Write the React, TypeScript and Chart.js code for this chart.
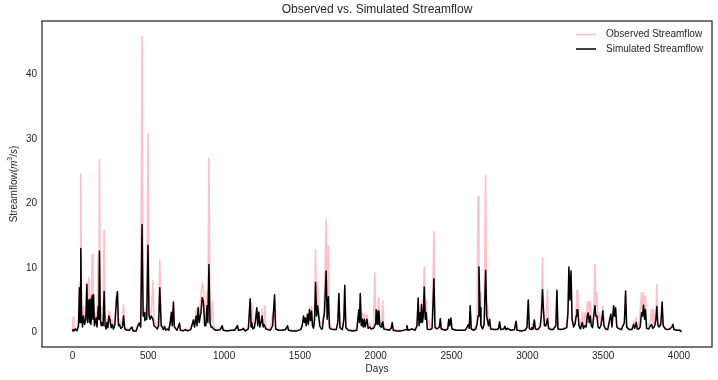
import React, { useEffect, useRef } from 'react';
import { Chart, registerables } from 'chart.js';

Chart.register(...registerables);

const FONT = 'Arial, "Liberation Sans", Helvetica, sans-serif';
const TEXT = '#262626';

const chartTitle = 'Observed vs. Simulated Streamflow';
const xAxisLabel = 'Days';
const seriesNames = ['Observed Streamflow', 'Simulated Streamflow'];
const seriesColors = ['#FFC0CB', '#000000'];
const xTickValues = [0, 500, 1000, 1500, 2000, 2500, 3000, 3500, 4000];
const yTickValues = [0, 10, 20, 30, 40];

const days = [
  0, 5, 10, 20, 30, 40, 46, 50, 55, 60,
  66, 73, 80, 88, 95, 100, 108, 113, 117, 122,
  130, 135, 139, 145, 156, 162, 170, 174, 178, 184,
  190, 196, 202, 209, 215, 222, 228, 234, 240, 247,
  255, 262, 270, 280, 290, 297, 303, 310, 318, 330,
  337, 345, 360, 375, 392, 400, 420, 432, 442, 450,
  459, 466, 472, 478, 484, 490, 498, 505, 512, 520,
  531, 538, 548, 560, 568, 576, 585, 592, 600, 608,
  615, 625, 635, 645, 653, 658, 666, 672, 690, 706,

  712, 730, 745, 760, 780, 798, 805, 816, 822, 829,
  836, 847, 856, 864, 872, 880, 887, 893, 900, 907,
  914, 922, 930, 945, 960, 975, 987, 995, 1020, 1050,
  1070, 1088, 1095, 1120, 1125, 1140, 1160, 1172, 1178, 1182,
  1190, 1200, 1208, 1216, 1222, 1229, 1236, 1244, 1251, 1258,
  1264, 1269, 1276, 1290, 1305, 1320, 1333, 1340, 1360, 1385,
  1405, 1418, 1425, 1450, 1480, 1505, 1515, 1524, 1530, 1535,

  1542, 1550, 1556, 1563, 1570, 1577, 1583, 1590, 1597, 1603,
  1610, 1617, 1624, 1631, 1640, 1648, 1655, 1662, 1673, 1680,
  1688, 1695, 1705, 1720, 1740, 1750, 1757, 1764, 1780, 1790,
  1796, 1803, 1820, 1850, 1875, 1889, 1893, 1898, 1905, 1911,
  1918, 1924, 1930, 1942, 1950, 1960, 1970, 1985, 1994, 2000,
  2003, 2010, 2015, 2021, 2027, 2035, 2041, 2047, 2053, 2070,
  2090, 2102, 2109, 2116, 2140, 2170, 2200, 2206, 2212, 2240,

  2260, 2272, 2280, 2286, 2293, 2297, 2302, 2308, 2314, 2320,
  2327, 2333, 2340, 2352, 2360, 2372, 2384, 2391, 2405, 2420,
  2426, 2432, 2460, 2475, 2482, 2488, 2496, 2503, 2530, 2560,
  2590, 2612, 2617, 2623, 2630, 2645, 2660, 2668, 2675, 2681,
  2688, 2694, 2705, 2715, 2725, 2732, 2737, 2744, 2751, 2758,
  2780, 2800, 2810, 2817, 2824, 2845, 2852, 2860, 2870, 2890,
  2915, 2926, 2932, 2960, 2985, 2998, 3006, 3013, 3025, 3030,

  3038, 3046, 3053, 3070, 3085, 3092, 3100, 3106, 3113, 3122,
  3133, 3140, 3155, 3170, 3188, 3195, 3202, 3220, 3240, 3260,
  3268, 3274, 3281, 3288, 3295, 3305, 3315, 3322, 3327, 3333,
  3340, 3350, 3362, 3370, 3380, 3388, 3395, 3401, 3408, 3415,
  3422, 3430, 3438, 3446, 3452, 3459, 3466, 3475, 3485, 3492,
  3498, 3505, 3515, 3530, 3544, 3551, 3558, 3569, 3575, 3582,
  3590, 3600, 3620, 3640, 3648, 3655, 3670, 3690, 3701, 3708,

  3718, 3725, 3735, 3744, 3753, 3760, 3766, 3773, 3779, 3786,
  3800, 3812, 3819, 3826, 3833, 3840, 3848, 3854, 3860, 3868,
  3880, 3889, 3896, 3910, 3925, 3940, 3954, 3960, 3967, 3985,
  4004, 4017,
];

// Observed streamflow (m^3/s)
const observed = [
  0.2, 2.3, 0.3, 0.5, 0.3, 1.5, 7.7, 2.0, 24.5, 4.0,
  1.5, 4.0, 1.8, 3.0, 7.8, 2.0, 8.5, 2.5, 6.0, 2.0,
  12.1, 3.0, 6.0, 1.5, 3.0, 1.0, 12.0, 3.0, 26.8, 3.0,
  2.0, 4.0, 2.0, 15.8, 3.0, 1.0, 2.0, 1.0, 3.2, 3.0,
  1.0, 2.0, 0.8, 1.5, 6.2, 6.0, 1.5, 2.0, 1.0, 2.0,
  4.3, 0.8, 0.6, 0.4, 0.8, 0.3, 0.3, 1.5, 1.4, 1.0,
  45.9, 3.0, 3.5, 2.0, 4.0, 2.5, 30.8, 3.0, 2.5, 3.0,
  8.0, 2.0, 1.5, 1.0, 3.0, 11.2, 1.5, 1.0, 0.5, 0.8,
  0.4, 0.6, 0.3, 2.0, 3.0, 1.0, 4.5, 1.0, 0.4, 1.2,

  0.4, 0.3, 0.5, 0.3, 0.5, 2.0, 1.0, 3.6, 1.5, 4.0,
  2.0, 5.8, 7.6, 6.8, 2.0, 1.5, 6.3, 2.0, 27.0, 3.0,
  1.5, 4.8, 1.0, 0.6, 0.4, 0.5, 1.0, 0.4, 0.3, 0.3,
  0.4, 1.0, 0.3, 0.4, 0.6, 0.3, 0.5, 5.0, 1.0, 4.6,
  0.6, 1.0, 2.5, 3.6, 1.5, 3.2, 1.2, 1.8, 3.6, 0.9,
  1.5, 4.1, 0.8, 0.5, 0.4, 3.0, 2.5, 0.6, 0.3, 0.3,
  0.4, 1.0, 0.3, 0.3, 0.3, 0.4, 1.0, 2.5, 1.5, 2.0,

  1.0, 2.8, 1.5, 3.9, 2.0, 4.0, 1.5, 1.0, 3.0, 12.8,
  3.0, 7.9, 3.5, 1.5, 1.5, 1.2, 2.5, 5.5, 17.4, 3.0,
  13.4, 1.5, 0.8, 0.5, 0.5, 2.0, 5.8, 0.8, 0.5, 2.0,
  7.0, 0.8, 0.4, 0.3, 0.4, 3.5, 1.5, 5.6, 1.5, 3.0,
  1.0, 2.8, 1.2, 2.8, 1.0, 1.5, 0.6, 1.0, 9.2, 2.5,
  3.0, 1.5, 3.0, 5.3, 1.5, 1.2, 2.0, 4.8, 0.8, 0.5,
  0.4, 0.6, 1.4, 0.4, 0.3, 0.3, 0.4, 1.0, 0.3, 0.5,

  0.4, 1.0, 4.6, 1.5, 2.5, 1.5, 5.0, 2.0, 3.0, 10.1,
  2.5, 5.0, 1.0, 1.8, 0.8, 1.0, 15.6, 1.2, 0.6, 0.8,
  2.0, 0.6, 0.4, 0.6, 2.0, 1.0, 2.1, 0.6, 0.4, 0.3,
  0.3, 0.8, 0.6, 3.9, 0.6, 0.4, 1.0, 1.5, 21.0, 6.0,
  6.1, 1.5, 0.8, 1.5, 24.3, 3.0, 4.3, 1.2, 2.0, 0.6,
  0.5, 0.4, 0.6, 1.6, 0.5, 0.5, 0.9, 0.4, 0.6, 0.3,
  0.4, 1.7, 0.4, 0.3, 0.3, 0.8, 5.0, 0.8, 0.6, 1.4,

  0.6, 1.9, 0.6, 0.5, 0.8, 3.0, 11.5, 4.0, 1.5, 2.0,
  6.6, 1.0, 0.6, 0.5, 1.0, 6.4, 0.6, 0.5, 0.6, 0.8,
  3.5, 9.5, 5.0, 9.0, 2.0, 1.0, 1.8, 4.0, 6.5, 6.4,
  1.5, 1.0, 3.0, 1.0, 3.0, 1.0, 4.5, 4.8, 2.0, 4.8,
  1.5, 1.2, 3.5, 10.5, 4.0, 6.1, 1.5, 3.0, 1.5, 2.5,
  4.1, 1.5, 0.6, 0.5, 2.5, 2.8, 1.0, 4.1, 2.5, 3.5,
  1.0, 0.7, 0.5, 1.5, 6.0, 1.0, 0.5, 0.6, 1.8, 0.8,

  2.3, 0.8, 1.0, 3.3, 6.1, 3.0, 6.1, 3.0, 5.6, 1.5,
  1.0, 2.0, 3.5, 1.0, 3.5, 1.5, 3.0, 7.4, 2.0, 1.0,
  1.5, 3.0, 1.0, 0.6, 0.5, 0.6, 1.0, 1.3, 0.5, 0.4,
  0.4, 0.2,
];

// Simulated streamflow (m^3/s)
const simulated = [
  0.1, 0.4, 0.2, 0.5, 0.2, 1.0, 6.9, 1.5, 13.0, 3.0,
  0.8, 2.5, 1.2, 2.0, 7.4, 1.5, 5.0, 1.5, 5.1, 1.2,
  5.7, 2.0, 5.8, 1.0, 2.2, 0.8, 4.0, 2.0, 12.6, 2.0,
  1.0, 1.5, 1.0, 6.3, 1.0, 0.5, 1.5, 0.7, 2.5, 2.0,
  0.7, 1.2, 0.5, 1.2, 5.0, 6.3, 1.0, 1.2, 0.6, 0.8,
  2.5, 0.5, 0.3, 0.3, 0.8, 0.2, 0.2, 1.0, 1.4, 0.8,
  16.7, 2.5, 3.0, 1.8, 2.0, 2.0, 13.5, 2.5, 2.0, 2.5,
  2.0, 1.0, 0.8, 0.5, 1.0, 6.9, 1.0, 0.8, 0.4, 0.9,
  0.3, 0.5, 0.3, 1.5, 3.1, 1.0, 4.7, 0.8, 0.3, 1.4,

  0.3, 0.2, 0.4, 0.2, 0.4, 1.9, 0.8, 2.5, 1.0, 3.8,
  1.5, 3.0, 5.4, 4.6, 1.0, 1.0, 4.1, 1.5, 10.5, 1.5,
  0.8, 0.8, 0.5, 0.3, 0.3, 0.4, 1.0, 0.3, 0.2, 0.3,
  0.3, 1.0, 0.3, 0.4, 0.6, 0.2, 0.5, 5.2, 0.8, 1.5,
  0.5, 0.7, 2.0, 3.8, 1.0, 3.1, 0.8, 1.5, 2.5, 0.8,
  1.2, 1.2, 0.5, 0.4, 0.3, 1.0, 5.8, 0.5, 0.3, 0.3,
  0.4, 1.0, 0.3, 0.2, 0.2, 0.4, 1.0, 2.5, 1.5, 2.2,

  1.0, 2.8, 1.2, 3.5, 1.8, 3.3, 1.0, 0.6, 2.0, 7.7,
  2.5, 4.1, 2.5, 1.0, 0.5, 0.5, 2.0, 3.0, 9.5, 2.0,
  5.5, 0.7, 0.5, 0.4, 0.4, 1.5, 6.0, 0.7, 0.4, 2.0,
  7.3, 0.7, 0.3, 0.2, 0.3, 3.5, 1.5, 6.0, 1.0, 2.0,
  0.8, 2.0, 0.8, 2.0, 0.6, 0.8, 0.5, 0.6, 1.0, 1.5,
  3.5, 1.2, 3.3, 3.3, 1.0, 0.8, 1.3, 1.6, 0.5, 0.4,
  0.3, 0.6, 1.5, 0.3, 0.2, 0.2, 0.4, 1.0, 0.3, 0.5,

  0.3, 1.0, 5.3, 1.0, 3.0, 1.5, 4.3, 1.5, 2.5, 7.0,
  2.0, 3.0, 0.5, 0.4, 0.4, 0.6, 8.3, 0.7, 0.5, 0.8,
  2.1, 0.5, 0.3, 0.5, 2.0, 1.0, 2.2, 0.5, 0.3, 0.3,
  0.3, 1.2, 0.6, 4.1, 0.5, 0.3, 0.5, 1.2, 2.5, 10.1,
  3.8, 1.0, 0.5, 1.2, 9.6, 2.5, 1.8, 1.0, 2.0, 0.5,
  0.4, 0.4, 0.6, 1.6, 0.4, 0.5, 0.9, 0.4, 0.6, 0.3,
  0.4, 1.7, 0.3, 0.2, 0.3, 0.8, 5.0, 0.6, 0.4, 0.7,

  0.5, 1.9, 0.5, 0.4, 0.9, 2.5, 6.6, 3.5, 1.0, 1.0,
  2.1, 0.6, 0.4, 0.4, 1.0, 6.5, 0.5, 0.4, 0.5, 0.7,
  3.0, 10.1, 5.0, 9.5, 2.0, 0.8, 1.3, 2.5, 3.5, 3.5,
  1.0, 0.5, 1.5, 0.6, 1.0, 0.8, 2.5, 3.0, 1.5, 2.5,
  1.0, 0.7, 2.5, 4.1, 2.5, 2.5, 0.8, 0.6, 1.0, 2.0,
  3.3, 1.0, 0.5, 0.4, 2.0, 2.8, 0.8, 4.1, 2.5, 3.8,
  0.8, 0.6, 0.4, 1.5, 6.4, 0.8, 0.4, 0.4, 1.2, 0.6,

  1.5, 0.5, 0.5, 0.8, 3.0, 2.5, 4.2, 2.0, 3.5, 0.6,
  0.5, 1.0, 1.2, 0.6, 0.7, 1.0, 2.0, 4.0, 1.2, 0.8,
  1.2, 4.7, 1.0, 0.5, 0.4, 0.5, 0.8, 1.2, 0.4, 0.3,
  0.3, 0.1,
];

const decorPlugin = {
  id: 'mplDecor',
  afterDraw(chart: any) {
    const { ctx, chartArea: a } = chart;
    ctx.save();
    // axes frame
    ctx.strokeStyle = TEXT;
    ctx.lineWidth = 1.25;
    ctx.strokeRect(a.left, a.top, a.right - a.left, a.bottom - a.top);

    // title
    ctx.fillStyle = TEXT;
    ctx.font = `12px ${FONT}`;
    ctx.textAlign = 'center';
    ctx.textBaseline = 'middle';
    ctx.fillText(chartTitle, (a.left + a.right) / 2, a.top - 11);

    // legend
    ctx.font = `10px ${FONT}`;
    ctx.textAlign = 'left';
    seriesNames.forEach((name, i) => {
      const y = a.top + 13.5 + i * 14.5;
      ctx.strokeStyle = seriesColors[i];
      ctx.lineWidth = 1.5;
      ctx.beginPath();
      ctx.moveTo(a.right - 136, y);
      ctx.lineTo(a.right - 116, y);
      ctx.stroke();
      ctx.fillStyle = TEXT;
      ctx.fillText(name, a.right - 106, y);
    });

    // y-axis label with math text
    const parts = [
      { t: 'Streamflow(', f: `10px ${FONT}`, dy: 0 },
      { t: 'm', f: `italic 10px ${FONT}`, dy: 0 },
      { t: '3', f: `7px ${FONT}`, dy: -3.5 },
      { t: '/', f: `10px ${FONT}`, dy: 0 },
      { t: 's', f: `italic 10px ${FONT}`, dy: 0 },
      { t: ')', f: `10px ${FONT}`, dy: 0 },
    ];
    let total = 0;
    const widths = parts.map((p) => {
      ctx.font = p.f;
      const w = ctx.measureText(p.t).width;
      total += w;
      return w;
    });
    ctx.translate(14, (a.top + a.bottom) / 2);
    ctx.rotate(-Math.PI / 2);
    ctx.fillStyle = TEXT;
    ctx.textAlign = 'left';
    ctx.textBaseline = 'middle';
    let x = -total / 2;
    parts.forEach((p, i) => {
      ctx.font = p.f;
      ctx.fillText(p.t, x, p.dy);
      x += widths[i];
    });
    ctx.restore();
  },
};

export default function App() {
  const ref = useRef<HTMLCanvasElement | null>(null);

  useEffect(() => {
    if (!ref.current) return;
    const obsPts = days.map((d, i) => ({ x: d, y: observed[i] }));
    const simPts = days.map((d, i) => ({ x: d, y: simulated[i] }));
    const chart = new Chart(ref.current, {
      type: 'line',
      data: {
        datasets: [
          {
            label: seriesNames[0],
            data: obsPts,
            borderColor: seriesColors[0],
            backgroundColor: seriesColors[0],
            borderWidth: 1.6,
            pointRadius: 0,
            tension: 0,
            borderJoinStyle: 'round',
            order: 2,
          },
          {
            label: seriesNames[1],
            data: simPts,
            borderColor: seriesColors[1],
            backgroundColor: seriesColors[1],
            borderWidth: 1.5,
            pointRadius: 0,
            tension: 0,
            borderJoinStyle: 'round',
            order: 1,
          },
        ],
      },
      options: {
        responsive: false,
        animation: false,
        devicePixelRatio: 1,
        layout: { padding: { top: 21, right: 6, left: 0, bottom: 0 } },
        plugins: {
          legend: { display: false },
          title: { display: false },
          tooltip: { enabled: false },
        },
        scales: {
          x: {
            type: 'linear',
            min: -200.85,
            max: 4217.85,
            grid: { display: false, drawTicks: false },
            border: { display: false },
            afterBuildTicks: (s: any) => {
              s.ticks = xTickValues.map((v) => ({ value: v }));
            },
            afterFit: (s: any) => {
              s.height = 33;
            },
            ticks: {
              color: TEXT,
              font: { family: FONT, size: 10 },
              padding: 3,
              maxRotation: 0,
              autoSkip: false,
              callback: (v: any) => String(v),
            },
            title: {
              display: true,
              text: xAxisLabel,
              color: TEXT,
              font: { family: FONT, size: 10 },
              padding: { top: 0, bottom: 5 },
            },
          },
          y: {
            type: 'linear',
            min: -2.3,
            max: 48.3,
            grid: { display: false, drawTicks: false },
            border: { display: false },
            afterBuildTicks: (s: any) => {
              s.ticks = yTickValues.map((v) => ({ value: v }));
            },
            afterFit: (s: any) => {
              s.width = 42;
            },
            ticks: {
              color: TEXT,
              font: { family: FONT, size: 10 },
              padding: 5,
              autoSkip: false,
              callback: (v: any) => String(v),
            },
          },
        },
      },
      plugins: [decorPlugin],
    });
    return () => chart.destroy();
  }, []);

  return (
    <div style={{ position: 'absolute', left: 0, top: 0, width: 718, height: 380, background: '#fff' }}>
      <canvas ref={ref} width={718} height={380} style={{ width: 718, height: 380, display: 'block' }} />
    </div>
  );
}
